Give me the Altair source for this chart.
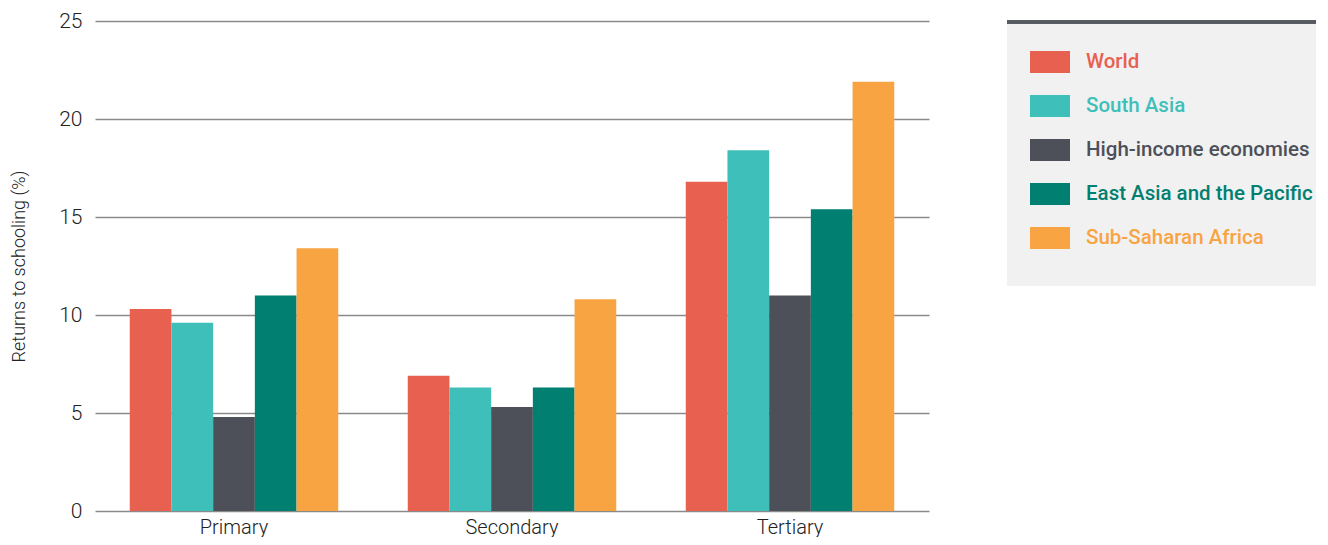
import altair as alt
import pandas as pd

levels = ["Primary", "Secondary", "Tertiary"]
series = ["World", "South Asia", "High-income economies", "East Asia and the Pacific", "Sub-Saharan Africa"]
colors = ["#e8604f", "#3fbfb9", "#4d5058", "#017f70", "#f9a442"]

world = [10.3, 6.9, 16.8]
south_asia = [9.6, 6.3, 18.4]
high_income = [4.8, 5.3, 11.0]
east_asia = [11.0, 6.3, 15.4]
ssa = [13.4, 10.8, 21.9]

values = [world, south_asia, high_income, east_asia, ssa]
rows = []
for s, vals in zip(series, values):
    for lvl, v in zip(levels, vals):
        rows.append({"level": lvl, "series": s, "value": v})
df = pd.DataFrame(rows)
legend_df = pd.DataFrame({"series": series})

FONT = "Roboto"
color_scale = alt.Scale(domain=series, range=colors)

bars = alt.Chart(df).mark_bar().encode(
    x=alt.X("level:N", sort=levels,
            scale=alt.Scale(paddingInner=0.25, paddingOuter=0.125),
            axis=alt.Axis(title=None, labelAngle=0, ticks=False, domain=False,
                          labelPadding=6, labelFontSize=20, labelFont=FONT,
                          labelFontWeight=300, labelColor="#222222")),
    xOffset=alt.XOffset("series:N", sort=series,
                        scale=alt.Scale(paddingInner=0, paddingOuter=0)),
    y=alt.Y("value:Q", scale=alt.Scale(domain=[0, 25]),
            axis=alt.Axis(title="Returns to schooling (%)", values=[0, 5, 10, 15, 20, 25],
                          ticks=False, domain=False, grid=True, gridColor="#8a8a8a",
                          gridWidth=1.5, labelPadding=13, labelFontSize=21,
                          labelFont=FONT, labelFontWeight=300, labelColor="#222222",
                          titleFont=FONT, titleFontSize=18, titleFontWeight=300,
                          titleColor="#222222", titlePadding=30)),
    color=alt.Color("series:N", scale=color_scale, legend=None),
).properties(width=834, height=490)

LW = 309
LH = 265
bg = alt.Chart(legend_df).mark_rect(color="#f1f1f1").encode(
    x=alt.value(0), x2=alt.value(LW), y=alt.value(0), y2=alt.value(LH)
)
border = alt.Chart(legend_df).mark_rule(color="#555a61", strokeWidth=3).encode(
    x=alt.value(0), x2=alt.value(LW), y=alt.value(1)
)
ypos = alt.Y("series:N", sort=series,
             scale=alt.Scale(domain=series, range=[41, 217], type="point", padding=0),
             axis=None)
swatch = alt.Chart(legend_df).mark_point(
    shape="M-1,-0.55H1V0.55H-1Z", filled=True, size=1600, opacity=1
).encode(
    x=alt.value(43), y=ypos,
    color=alt.Color("series:N", scale=color_scale, legend=None),
)
labels = alt.Chart(legend_df).mark_text(
    align="left", baseline="middle", font=FONT, fontSize=20.5, fontWeight=500
).encode(
    x=alt.value(79), y=ypos, text="series:N",
    color=alt.Color("series:N", scale=color_scale, legend=None),
)
legend_panel = alt.layer(bg, border, swatch, labels).properties(width=LW, height=LH)

chart = alt.hconcat(bars, legend_panel, spacing=76).properties(
    padding={"left": 2, "top": 2, "right": 0, "bottom": 0}
).configure_view(stroke=None).configure_concat(spacing=76)

chart.save("out.html", embed_options={"renderer": "svg", "actions": False})
